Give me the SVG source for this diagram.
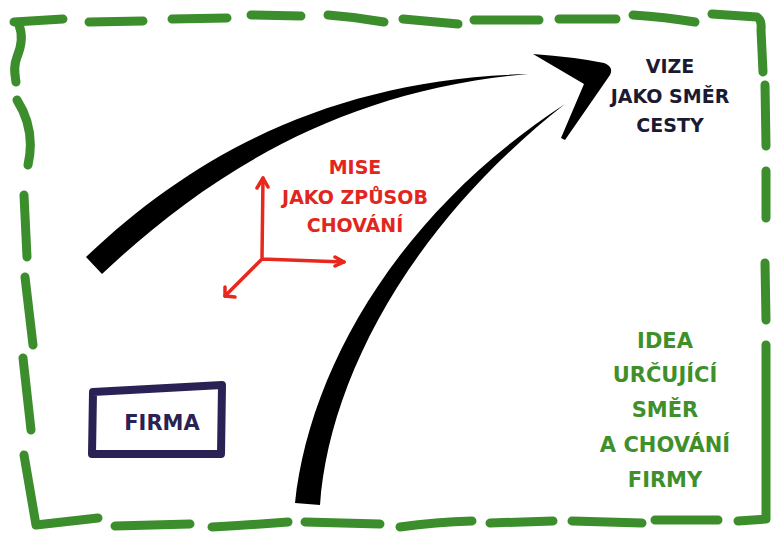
<svg xmlns="http://www.w3.org/2000/svg" width="771" height="535" viewBox="0 0 771 535">
<style>
.dash{fill:none;stroke:#3c8d2c;stroke-width:9;stroke-linecap:round;stroke-linejoin:round}
.txt{font-family:"DejaVu Sans","Liberation Sans",sans-serif;font-weight:bold;text-anchor:middle}
.vize{fill:#1c1a33;font-size:19px}
.mise{fill:#e2261d;font-size:19px}
.idea{fill:#3f8f2a;font-size:21px}
.red{fill:none;stroke:#e8281e;stroke-width:3.5;stroke-linecap:round;stroke-linejoin:round}
</style>
<rect width="771" height="535" fill="#ffffff"/>
<g id="border">
<path class="dash" d="M63,19 C45,20 28,21 14,22 M19,25 C23,35 22,45 17,57 C13,67 15,75 16,82"/>
<path class="dash" d="M89,22 L143,21 M172,19 L227,18 M251,15 L301,16 M328,15 Q356,17 384,22 M403,19 L458,24 M474,20 L539,20 M559,19 L616,19 M633,15 Q665,17 695,22"/>
<path class="dash" d="M712,14 L757,17 Q762,20 761,30 L763,72"/>
<path class="dash" d="M765,85 L766,146 M766,171 L766,218 M765,263 L766,320 M766,345 L766,519 L738,521"/>
<path class="dash" d="M17,100 Q36,130 28,165 M24,195 L27,257 M25,277 L33,345 M23,358 L31,430 M24,455 L36,525 L98,518"/>
<path class="dash" d="M115,526 L190,524 M212,527 Q250,525 288,522 M305,522 L380,524 M400,527 Q436,522 472,521 M490,523 L553,521 M572,521 L642,523 M655,520 L718,520"/>
</g>
<g id="connectors">
<path id="arc-upper" d="M86,257 C200,148 340,79 528,74 C345,90 212,170 102,274 Z" fill="#000"/>
<path id="arc-lower" d="M295,503 C308,378 390,218 565,104 C402,232 328,388 320,505 Z" fill="#000"/>
<path id="arrowhead" d="M533,54 Q575,57 604,63 Q614,67 610,75 L565,140 L561,138 L584,84 Z" fill="#000"/>
</g>
<g id="axes">
<path class="red" d="M263,178 L262,259 L344,262 M262,259 L225,296"/>
<path class="red" d="M257,188 L263,178 L268,187 M335,257 L344,262 L335,266 M225,287 L225,296 L235,297"/>
</g>
<g id="firma">
<path d="M93,392 L222,385 L221,454 L92,454 Z" fill="none" stroke="#2a2155" stroke-width="8" stroke-linejoin="round"/>
<text class="txt" x="162" y="430" font-size="21" fill="#2a2155">FIRMA</text>
</g>
<g id="vize">
<text class="txt vize" x="670" y="73">VIZE</text>
<text class="txt vize" x="670" y="103">JAKO SMĚR</text>
<text class="txt vize" x="670" y="132">CESTY</text>
</g>
<g id="mise">
<text class="txt mise" x="355" y="174">MISE</text>
<text class="txt mise" x="355" y="204">JAKO ZPŮSOB</text>
<text class="txt mise" x="355" y="232">CHOVÁNÍ</text>
</g>
<g id="idea">
<text class="txt idea" x="665" y="348">IDEA</text>
<text class="txt idea" x="665" y="382">URČUJÍCÍ</text>
<text class="txt idea" x="665" y="417">SMĚR</text>
<text class="txt idea" x="665" y="452">A CHOVÁNÍ</text>
<text class="txt idea" x="665" y="487">FIRMY</text>
</g>
</svg>
